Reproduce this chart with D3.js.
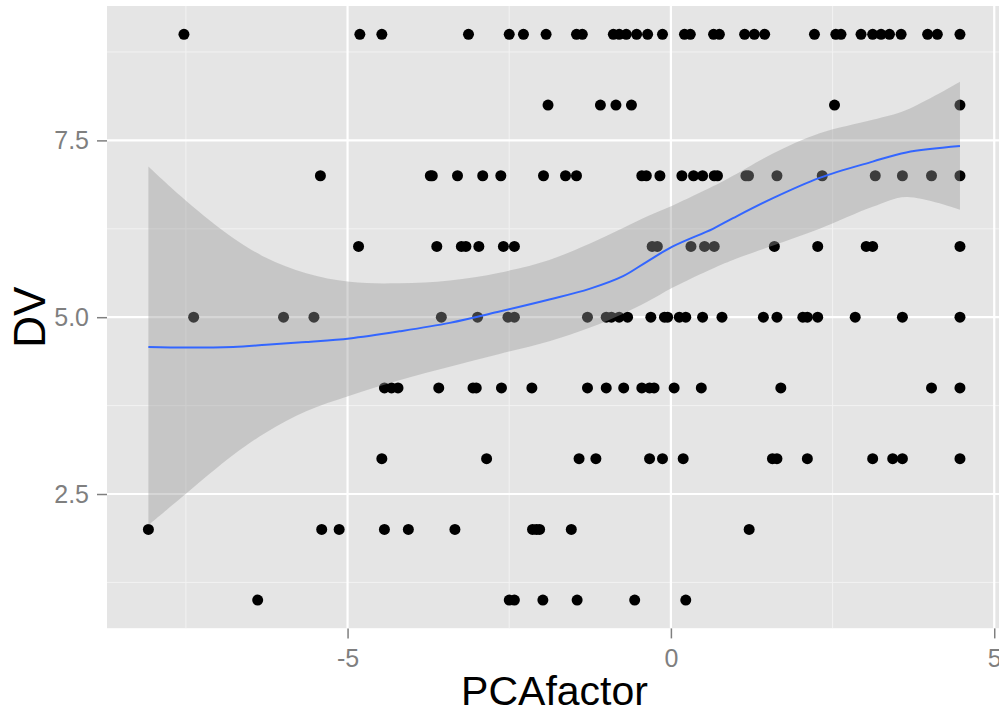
<!DOCTYPE html>
<html>
<head>
<meta charset="utf-8">
<script src="https://cdn.jsdelivr.net/npm/d3@7"></script>
<style>
  body { margin: 0; background: #fff; }
  text { font-family: "Liberation Sans", Arial, sans-serif; }
</style>
</head>
<body>
<div class="js-vis"></div>
<script>
// PCAfactor values, one array per DV level
const pca9 = [-7.53, -4.81, -4.47, -3.13, -2.50, -2.28, -1.93, -1.46, -1.37, -0.89, -0.80, -0.69, -0.53, -0.36, -0.13,
  0.21, 0.30, 0.66, 0.75, 1.14, 1.29, 1.45, 2.22, 2.55, 2.63, 2.94, 3.12, 3.25, 3.38, 3.56, 3.97, 4.12, 4.47]
const pca8 = [-1.90, -1.09, -0.85, -0.61, 2.53, 4.47]
const pca7 = [-5.42, -3.72, -3.69, -3.30, -2.91, -2.63, -1.97, -1.63, -1.46, -0.45, -0.38, -0.17, 0.17, 0.35, 0.49,
  0.67, 0.72, 1.16, 1.20, 1.64, 2.34, 3.16, 3.58, 4.03, 4.47]
const pca6 = [-4.83, -3.62, -3.24, -3.17, -2.97, -2.59, -2.42, -0.29, -0.21, 0.31, 0.52, 0.67, 1.60, 2.27, 3.02, 3.12, 4.47]
const pca5 = [-7.38, -5.99, -5.52, -3.55, -2.99, -2.52, -2.42, -1.29, -1.00, -0.92, -0.80, -0.67, -0.31, -0.10, -0.05,
  0.13, 0.23, 0.49, 0.79, 1.43, 1.64, 2.04, 2.11, 2.27, 2.85, 3.58, 4.47]
const pca4 = [-4.43, -4.32, -4.22, -3.59, -3.06, -3.01, -2.62, -2.15, -1.29, -1.00, -0.73, -0.45, -0.33, -0.26, 0.05,
  0.47, 1.70, 4.03, 4.47]
const pca3 = [-4.47, -2.85, -1.42, -1.16, -0.33, -0.13, 0.19, 1.57, 1.64, 2.11, 3.12, 3.43, 3.58, 4.47]
const pca2 = [-8.08, -5.40, -5.13, -4.43, -4.06, -3.34, -2.14, -2.08, -2.03, -1.54, 1.21]
const pca1 = [-6.39, -2.50, -2.42, -1.98, -1.45, -0.56, 0.23]

const dvLevels = [9, 8, 7, 6, 5, 4, 3, 2, 1]
const pcaRows = [pca9, pca8, pca7, pca6, pca5, pca4, pca3, pca2, pca1]

// loess fit and its confidence band
const smoothX  = [-8.08, -7.49, -6.77, -6.26, -5.64, -4.97, -4.20, -3.42, -2.65, -1.88, -1.26, -0.74, -0.38, 0.03, 0.65, 0.96, 1.57, 2.30, 3.12, 3.64, 4.47]
const smoothY  = [4.58, 4.57, 4.58, 4.61, 4.65, 4.70, 4.80, 4.92, 5.08, 5.25, 5.40, 5.58, 5.78, 6.00, 6.25, 6.40, 6.68, 6.97, 7.20, 7.33, 7.42]
const smoothLo = [2.06, 2.51, 3.05, 3.37, 3.67, 3.89, 4.11, 4.30, 4.48, 4.66, 4.85, 5.05, 5.21, 5.42, 5.69, 5.81, 6.01, 6.25, 6.56, 6.70, 6.52]
const smoothHi = [7.13, 6.64, 6.12, 5.84, 5.62, 5.50, 5.48, 5.52, 5.63, 5.81, 6.04, 6.26, 6.42, 6.58, 6.85, 7.00, 7.31, 7.60, 7.79, 7.93, 8.33]

const xMajor = [-5, 0, 5], xMinor = [-7.5, -2.5, 2.5]
const yMajor = [2.5, 5, 7.5], yMinor = [1.25, 3.75, 6.25, 8.75]

const W = 999, H = 714
const panel = { left: 107, right: 1002, top: 6, bottom: 628.4 }

const points = []
pcaRows.forEach((row, i) => {
  row.forEach(v => points.push({ x: v, y: dvLevels[i] }))
})
const fit = smoothX.map((v, i) => ({ x: v, y: smoothY[i], lo: smoothLo[i], hi: smoothHi[i] }))

const x = d3.scaleLinear()
  .domain([-8.72, 5.12])
  .range([panel.left, panel.right])

const y = d3.scaleLinear()
  .domain([0.6, 9.4])
  .range([panel.bottom, panel.top])

const svg = d3.select(".js-vis").append("svg")
  .attr("width", W)
  .attr("height", H)

svg.append("clipPath").attr("id", "clip")
  .append("rect")
    .attr("x", panel.left).attr("y", panel.top)
    .attr("width", panel.right - panel.left)
    .attr("height", panel.bottom - panel.top)

const plot = svg.append("g").attr("clip-path", "url(#clip)")

plot.append("rect")
  .attr("x", panel.left).attr("y", panel.top)
  .attr("width", panel.right - panel.left)
  .attr("height", panel.bottom - panel.top)
  .attr("fill", "#e5e5e5")

// grid
plot.selectAll(".xminor").data(xMinor)
.enter().append("line")
  .attr("x1", d => x(d)).attr("x2", d => x(d))
  .attr("y1", panel.top).attr("y2", panel.bottom)
  .attr("stroke", "#f2f2f2").attr("stroke-width", 1)

plot.selectAll(".yminor").data(yMinor)
.enter().append("line")
  .attr("y1", d => y(d)).attr("y2", d => y(d))
  .attr("x1", panel.left).attr("x2", panel.right)
  .attr("stroke", "#f2f2f2").attr("stroke-width", 1)

plot.selectAll(".xmajor").data(xMajor)
.enter().append("line")
  .attr("x1", d => x(d)).attr("x2", d => x(d))
  .attr("y1", panel.top).attr("y2", panel.bottom)
  .attr("stroke", "#fff").attr("stroke-width", 2.2)

plot.selectAll(".ymajor").data(yMajor)
.enter().append("line")
  .attr("y1", d => y(d)).attr("y2", d => y(d))
  .attr("x1", panel.left).attr("x2", panel.right)
  .attr("stroke", "#fff").attr("stroke-width", 2.2)

// points
plot.selectAll(".node").data(points)
.enter().append("circle")
  .attr("class", "node")
  .attr("r", 5.5)
  .attr("cx", d => x(d.x))
  .attr("cy", d => y(d.y))
  .attr("fill", "#000")

// smoother
const band = d3.area()
  .x(d => x(d.x))
  .y0(d => y(d.lo))
  .y1(d => y(d.hi))
  .curve(d3.curveCatmullRom.alpha(0.5))

plot.append("path")
  .datum(fit)
  .attr("d", band)
  .attr("fill", "#999999")
  .attr("fill-opacity", 0.4)

const line = d3.line()
  .x(d => x(d.x))
  .y(d => y(d.y))
  .curve(d3.curveCatmullRom.alpha(0.5))

plot.append("path")
  .datum(fit)
  .attr("d", line)
  .attr("fill", "none")
  .attr("stroke", "#3366ff")
  .attr("stroke-width", 2)

// axes
const xax = d3.axisBottom(x)
  .tickValues(xMajor)
  .tickFormat(d => String(d))
  .tickSize(10)
  .tickPadding(11)

const yax = d3.axisLeft(y)
  .tickValues(yMajor)
  .tickFormat(d3.format(".1f"))
  .tickSize(10)
  .tickPadding(8)

function styleAxis(g) {
  g.select(".domain").remove()
  g.selectAll(".tick line").attr("stroke", "#7f7f7f").attr("stroke-width", 1.5)
  g.selectAll(".tick text")
    .attr("fill", "#7f7f7f")
    .style("font-size", "25px")
    .style("font-family", '"Liberation Sans", Arial, sans-serif')
}

svg.append("g")
  .attr("transform", "translate(0," + panel.bottom + ")")
  .call(xax)
  .call(styleAxis)

svg.append("g")
  .attr("transform", "translate(" + panel.left + ",0)")
  .call(yax)
  .call(styleAxis)

svg.append("text")
  .attr("x", (panel.left + panel.right) / 2)
  .attr("y", 705)
  .attr("text-anchor", "middle")
  .style("font-size", "41px")
  .text("PCAfactor")

svg.append("text")
  .attr("transform", "translate(45," + (panel.top + panel.bottom) / 2 + ") rotate(-90)")
  .attr("text-anchor", "middle")
  .style("font-size", "44px")
  .text("DV")
</script>
</body>
</html>
